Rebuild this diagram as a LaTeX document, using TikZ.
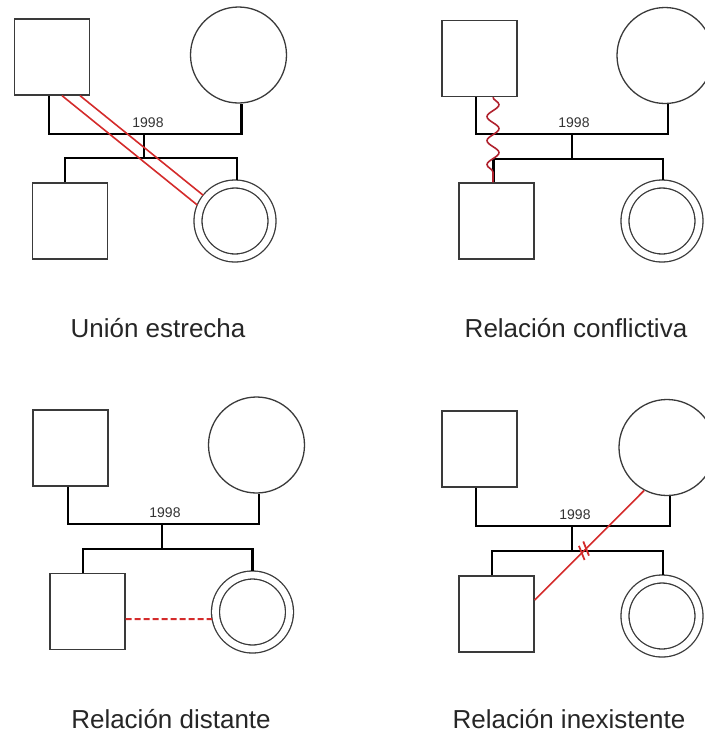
\documentclass[tikz,border=0pt]{standalone}
\usepackage{fontspec}
\setmainfont{Liberation Sans}
\usetikzlibrary{decorations.pathmorphing,decorations.markings}
\definecolor{outl}{HTML}{3A3A3A}
\definecolor{rel}{HTML}{D42B2B}
\definecolor{wav}{HTML}{B0222E}
\begin{document}
\begin{tikzpicture}[x=1pt,y=-1pt,
  male/.style={draw=outl, line width=1.3pt, rectangle, minimum width=75pt, minimum height=76pt, inner sep=0pt},
  female/.style={draw=outl, line width=1.3pt, circle, minimum size=96pt, inner sep=0pt},
  index/.style={draw=outl, line width=1.3pt, circle, double=white, double distance=6.7pt, minimum size=74pt, inner sep=0pt, outer sep=4pt},
  link/.style={draw=black, line width=2.2pt},
  year/.style={font=\fontsize{14}{16}\selectfont, text=black!80},
  lab/.style={font=\fontsize{26}{30}\selectfont, anchor=base, text=black!85},
  close/.style={draw=rel, line width=1.6pt},
  wavy/.style={draw=wav, line width=1.6pt, decorate, decoration={snake, segment length=24pt, amplitude=6pt}},
  distant/.style={draw=rel, line width=2pt, dash pattern=on 6pt off 3pt},
  cutrel/.style={draw=rel, line width=1.6pt, postaction={decorate}, decoration={markings,
     mark=at position 0.53 with {\draw[rel, line width=1.8pt] (-3pt,-7pt) -- (3pt,7pt);},
     mark=at position 0.57 with {\draw[rel, line width=1.8pt] (-3pt,-7pt) -- (3pt,7pt);}}}
]
\useasboundingbox (0,0) rectangle (705,740);

% ---------- Panel 1: Union estrecha ----------
\node[male] (F1) at (52,57) {};
\node[female] (M1) at (238.5,55) {};
\node[male] (C1) at (70,221) {};
\node[index] (D1) at (235,221) {};
\coordinate (u1) at (144,134);
\coordinate (s1) at (144,158);
\node[year] (Y1) at (148,122.5) {1998};
\draw[link] ([xshift=-3pt]F1.south) |- (u1) -| ([xshift=3pt]M1.south);
\draw[link] (u1) -- (s1);
\draw[link] ([xshift=-5pt]C1.north) |- (s1) -| ([xshift=2pt]D1.north);
\draw[close] ([xshift=10pt]F1.south) -- (D1.157);
\draw[close] ([xshift=28pt]F1.south) -- (D1.141);
\node[lab] (L1) at (158,337) {Unión estrecha};

% ---------- Panel 2: Relacion conflictiva ----------
\node[male] (F2) at (479.5,58.5) {};
\node[female] (M2) at (665,55.5) {};
\node[male] (C2) at (496.5,221) {};
\node[index] (D2) at (662,221) {};
\coordinate (u2) at (572,134);
\coordinate (s2) at (572,159);
\node[year] (Y2) at (574,123) {1998};
\draw[link] ([xshift=-3.5pt]F2.south) |- (u2) -| ([xshift=3pt]M2.south);
\draw[link] (u2) -- (s2);
\draw[link] ([xshift=-3pt]C2.north) |- (s2) -| ([xshift=1pt]D2.north);
\draw[wavy] ([xshift=13.5pt]F2.south) -- ([xshift=-3.5pt]C2.north);
\node[lab] (L2) at (576,337) {Relación conflictiva};

% ---------- Panel 3: Relacion distante ----------
\node[male] (F3) at (70.5,448) {};
\node[female] (M3) at (256.5,445) {};
\node[male] (C3) at (87.5,611.5) {};
\node[index] (D3) at (252.5,612) {};
\coordinate (u3) at (162,524);
\coordinate (s3) at (162,549);
\node[year] (Y3) at (165,513) {1998};
\draw[link] ([xshift=-2.5pt]F3.south) |- (u3) -| ([xshift=2.5pt]M3.south);
\draw[link] (u3) -- (s3);
\draw[link] ([xshift=-4.5pt]C3.north) |- (s3) -| (D3.north);
\draw[distant] ([yshift=-7.5pt]C3.east) -- (D3.190);
\node[lab] (L3) at (171,728) {Relación distante};

% ---------- Panel 4: Relacion inexistente ----------
\node[male] (F4) at (479.5,449) {};
\node[female] (M4) at (667,447.5) {};
\node[male] (C4) at (496.5,614) {};
\node[index] (D4) at (662,616) {};
\coordinate (u4) at (572,526);
\coordinate (s4) at (572,551);
\node[year] (Y4) at (575,515) {1998};
\draw[link] ([xshift=-3.5pt]F4.south) |- (u4) -| ([xshift=3pt]M4.south);
\draw[link] (u4) -- (s4);
\draw[link] ([xshift=-4.5pt]C4.north) |- (s4) -| ([xshift=1pt]D4.north);
\draw[cutrel] (M4.242) -- ([yshift=14pt]C4.east);
\node[lab] (L4) at (569,728) {Relación inexistente};
\end{tikzpicture}
\end{document}
